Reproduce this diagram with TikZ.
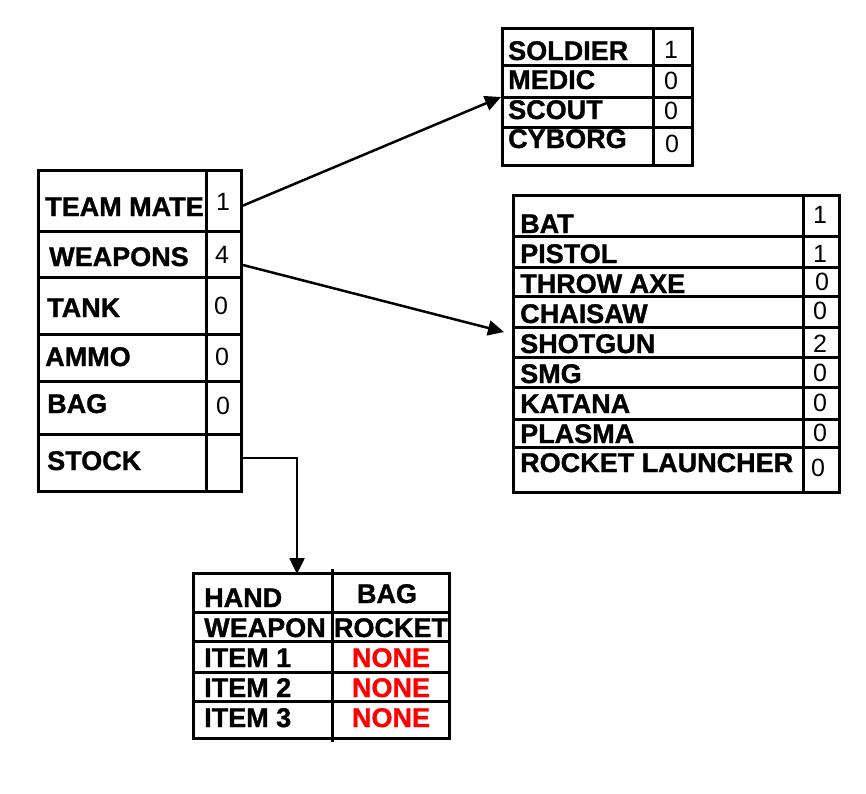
\documentclass[tikz,border=0pt]{standalone}
\usepackage{fontspec}
\setmainfont{Liberation Sans}[BoldFeatures={FakeBold=1.2}]
\usetikzlibrary{arrows.meta}
\begin{document}
\begin{tikzpicture}[x=1pt,y=-1pt,
  grid/.style={line width=3pt,line cap=rect},
  lbl/.style={anchor=base west,inner sep=0pt,font=\fontsize{27}{27}\selectfont\bfseries},
  num/.style={anchor=base,inner sep=0pt,font=\fontsize{25}{25}\selectfont},
  red lbl/.style={anchor=base,inner sep=0pt,font=\fontsize{27}{27}\selectfont\bfseries,text=red},
  conn/.style={line width=2.5pt,-{Triangle[length=16pt,width=15pt]}}]
\useasboundingbox (0,0) rectangle (866,793);
% ---------- main table ----------
\draw[grid] (38,170) rectangle (241,491);
\draw[grid] (206,170) -- (206,491);
\foreach \y in {231,277,334,381,434} \draw[grid] (38,\y) -- (241,\y);
\node[lbl] (tm) at (45,216) {TEAM MATE};
\node[lbl] (wp) at (49,266) {WEAPONS};
\node[lbl] (tk) at (47,317) {TANK};
\node[lbl] (am) at (45,366) {AMMO};
\node[lbl] (bg) at (47,413) {BAG};
\node[lbl] (st) at (47,470) {STOCK};
\node[num] (ntm) at (223,210) {1};
\node[num] (nwp) at (222,263) {4};
\node[num] (ntk) at (221,314) {0};
\node[num] (nam) at (222,365) {0};
\node[num] (nbg) at (223,414) {0};
\coordinate (tmout) at (242,206);
\coordinate (wpout) at (243,265);
\coordinate (stout) at (241,458);
% ---------- class table ----------
\draw[grid] (502,28) rectangle (692,165);
\draw[grid] (653,28) -- (653,165);
\foreach \y in {65,97,127} \draw[grid] (502,\y) -- (692,\y);
\node[lbl] (so) at (508,60) {SOLDIER};
\node[lbl] (me) at (508,89) {MEDIC};
\node[lbl] (sc) at (508,119) {SCOUT};
\node[lbl] (cy) at (508,148) {CYBORG};
\node[num] (nso) at (671,58) {1};
\node[num] (nme) at (671,89) {0};
\node[num] (nsc) at (671,119) {0};
\node[num] (ncy) at (672,152) {0};
\coordinate (clin) at (501,97);
% ---------- weapons table ----------
\draw[grid] (513,195) rectangle (839,492);
\draw[grid] (803,195) -- (803,492);
\foreach \y in {236,267,296,327,357,387,419,447} \draw[grid] (513,\y) -- (839,\y);
\node[lbl] (w1) at (520,233) {BAT};
\node[lbl] (w2) at (520,263) {PISTOL};
\node[lbl] (w3) at (520,293) {THROW AXE};
\node[lbl] (w4) at (520,323) {CHAISAW};
\node[lbl] (w5) at (520,353) {SHOTGUN};
\node[lbl] (w6) at (520,383) {SMG};
\node[lbl] (w7) at (520,413) {KATANA};
\node[lbl] (w8) at (520,443) {PLASMA};
\node[lbl] (w9) at (520,472) {ROCKET LAUNCHER};
\node[num] (n1) at (820,223) {1};
\node[num] (n2) at (820,262) {1};
\node[num] (n3) at (822,290) {0};
\node[num] (n4) at (820,319) {0};
\node[num] (n5) at (820,352) {2};
\node[num] (n6) at (820,381) {0};
\node[num] (n7) at (820,411) {0};
\node[num] (n8) at (820,441) {0};
\node[num] (n9) at (818,476) {0};
\coordinate (wpin) at (504,332);
% ---------- stock table ----------
\draw[grid] (193,573) rectangle (449,738);
\draw[grid] (332,570) -- (332,740);
\foreach \y in {612,641,672,701} \draw[grid] (193,\y) -- (449,\y);
\node[lbl] (h1) at (204,607) {HAND};
\node[lbl] (h2) at (204,637) {WEAPON};
\node[lbl] (h3) at (204,667) {ITEM 1};
\node[lbl] (h4) at (204,697) {ITEM 2};
\node[lbl] (h5) at (204,727) {ITEM 3};
\node[lbl,anchor=base] (b1) at (387,603) {BAG};
\node[lbl,anchor=base] (b2) at (391,637) {ROCKET};
\node[red lbl] (b3) at (391,667) {NONE};
\node[red lbl] (b4) at (391,697) {NONE};
\node[red lbl] (b5) at (391,727) {NONE};
\coordinate (stin) at (297,574);
% ---------- connectors ----------
\draw[conn] (tmout) -- (clin);
\draw[conn] (wpout) -- (wpin);
\draw[conn] (stout) -| (stin);
\end{tikzpicture}
\end{document}
